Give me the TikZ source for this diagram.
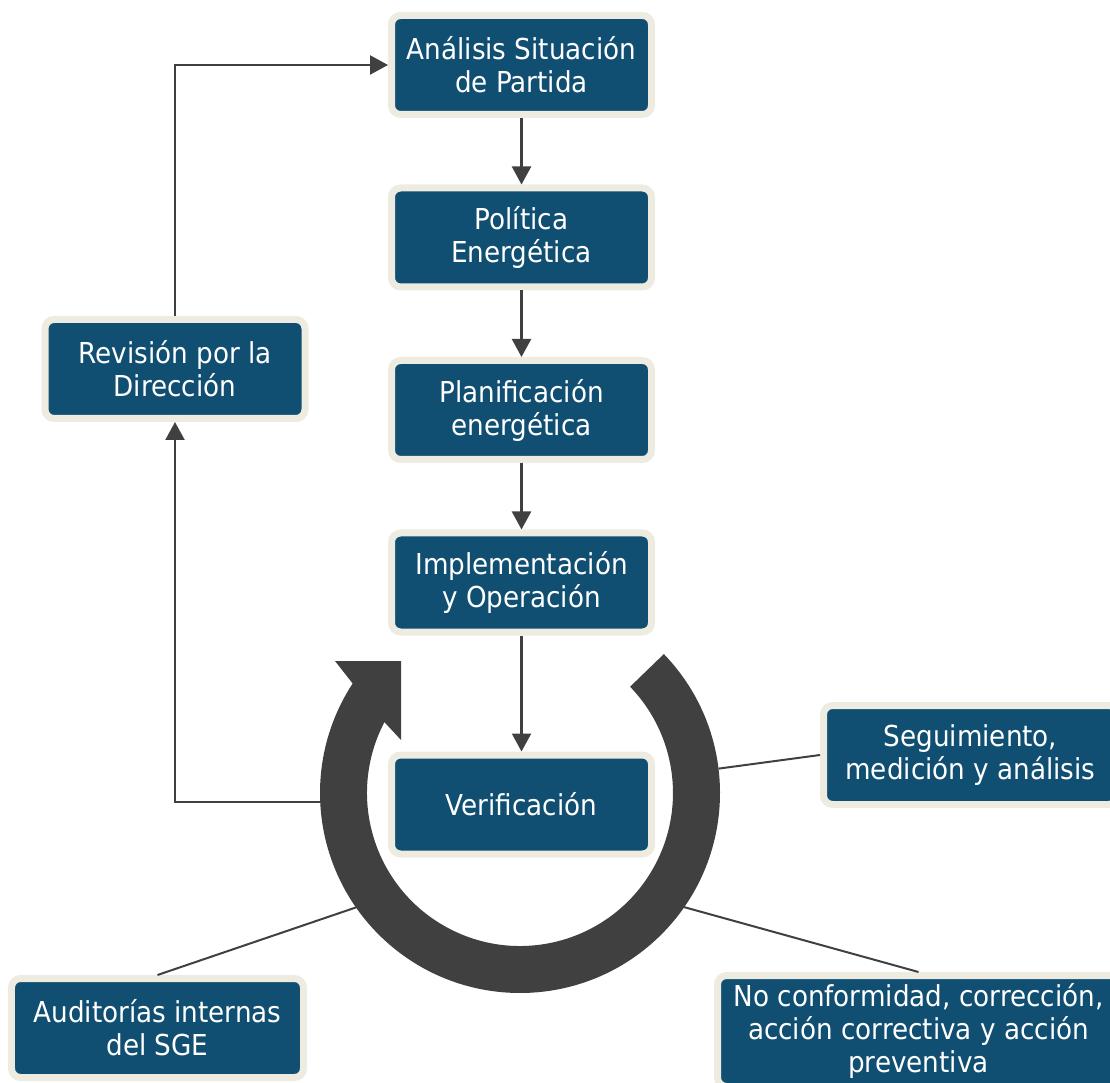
\documentclass[tikz,border=0pt]{standalone}
\usepackage{fontspec}
\setmainfont{DejaVu Sans}[FakeStretch=0.91]
\usepackage{tikz}
\usetikzlibrary{arrows.meta}
\usetikzlibrary{calc}

\definecolor{azul}{RGB}{16,79,114}
\definecolor{crema}{RGB}{238,236,225}
\definecolor{gris}{RGB}{64,64,64}

\begin{document}
\begin{tikzpicture}[
    caja/.style={rectangle, rounded corners=0.18cm, fill=azul, draw=crema,
        line width=0.14cm, text=white, align=center,
        font=\fontsize{16.4}{18.8}\selectfont,
        minimum width=5.2cm, minimum height=1.98cm, inner sep=0pt},
    flecha/.style={gris, line width=0.045cm,
        -{Triangle[length=0.36cm,width=0.38cm]}},
    guia/.style={gris, line width=0.04cm}
]
    \clip (0,0) rectangle (22.2,21.64);

    % 方框
    \node[caja] (ana) at (10.43,20.34) {Análisis Situación\\de Partida};
    \node[caja] (pol) at (10.43,16.89) {Política\\Energética};
    \node[caja] (pla) at (10.43,13.44) {Planificación\\energética};
    \node[caja] (imp) at (10.43,9.99) {Implementación\\y Operación};
    \node[caja] (ver) at (10.43,5.55) {Verificación};
    \node[caja] (rev) at (3.5,14.26) {Revisión por la\\Dirección};
    \node[caja, minimum width=5.88cm] (seg) at (19.41,6.54) {Seguimiento,\\medición y análisis};
    \node[caja, minimum width=5.84cm] (aud) at (3.15,1.08) {Auditorías internas\\del SGE};
    \node[caja, minimum width=8.04cm, minimum height=2.22cm] (noc) at (18.37,1.02)
        {No conformidad, corrección,\\acción correctiva y acción\\preventiva};

    % 箭头
    \draw[flecha] (ana.south) -- (pol.north);
    \draw[flecha] (pol.south) -- (pla.north);
    \draw[flecha] (pla.south) -- (imp.north);
    \draw[flecha] (imp.south) -- (ver.north);
    \draw[flecha] (rev.north) |- (ana.west);

    \coordinate (ringL) at (6.45,5.6);
    \coordinate (ringS) at ($(10.4,5.78)+(7:4)$);
    \coordinate (ringA) at ($(10.4,5.78)+(214.9:4)$);
    \coordinate (ringN) at ($(10.4,5.78)+(-34.8:4)$);
    \draw[flecha] (ringL) -| (rev.south);
    \draw[guia] (ringS) -- (seg.west);
    \draw[guia] (ringA) -- (aud.north);
    \draw[guia] (ringN) -- (noc.north);

    % 循环箭头
    \begin{scope}[shift={(10.4,5.78)}]
    \fill[gris] (44:4) arc[start angle=44, end angle=-213.2, radius=4]
        -- (-3.70,2.64) -- (-2.38,2.64) -- (-2.38,1.06)
        -- (152.4:3.06) arc[start angle=152.4, end angle=404, radius=3.06] -- cycle;
    \end{scope}
\end{tikzpicture}
\end{document}
